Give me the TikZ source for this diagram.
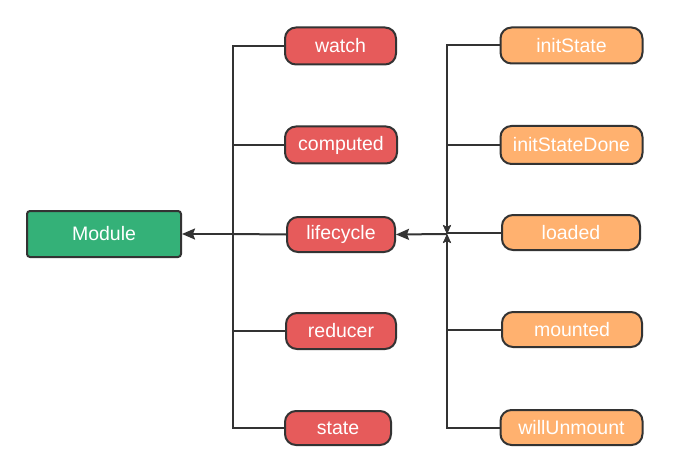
\documentclass[tikz,border=0pt]{standalone}
\usepackage{fontspec}
\setmainfont{Liberation Sans}
\usetikzlibrary{positioning}
\usetikzlibrary{arrows.meta}

\definecolor{modgreen}{RGB}{52,177,120}
\definecolor{keyred}{RGB}{230,91,91}
\definecolor{hookorange}{RGB}{255,177,111}
\definecolor{edgegray}{RGB}{51,51,51}

\begin{document}
\begin{tikzpicture}[x=1pt,y=-1pt,
    font=\fontsize{19.5}{22}\selectfont,
    keybox/.style={draw=edgegray, line width=2pt, rectangle, rounded corners=11pt,
        fill=keyred, text=white, inner sep=0pt, minimum height=37pt},
    hookbox/.style={draw=edgegray, line width=2pt, rectangle, rounded corners=11pt,
        fill=hookorange, text=white, inner sep=0pt, minimum height=36pt, minimum width=142pt},
    link/.style={draw=edgegray, line width=2pt},
    bigtip/.style={link, -{Stealth[length=13pt,width=11pt,inset=2pt]}},
    smalltip/.style={link, -{Stealth[length=9pt,width=8pt,inset=2pt]}}
]
        \useasboundingbox (0,0) rectangle (679,465);
        \node
        [
            rectangle,
            rounded corners=3pt,
            draw=edgegray,
            line width=2pt,
            fill=modgreen,
            text=white,
            minimum width=154pt,
            minimum height=46pt
        ] (module) at (104, 234) {Module};

        % red keys
        \node[keybox, minimum width=111pt] (watch) at (340.5, 46) {watch};
        \node[keybox, minimum width=112pt] (computed) at (341, 145) {computed};
        \node[keybox, minimum width=108pt, minimum height=35pt] (lifecycle) at (341, 234.5) {lifecycle};
        \node[keybox, minimum width=110pt, minimum height=36pt] (reducer) at (341, 331) {reducer};
        \node[keybox, minimum width=106pt, minimum height=34pt] (state) at (338, 428) {state};

        % orange hooks
        \node[hookbox] (initState) at (571.5, 45.5) {initState};
        \node[hookbox, minimum height=38pt] (initStateDone) at (571.5, 145) {initStateDone};
        \node[hookbox, minimum width=138pt, minimum height=35pt] (loaded) at (571, 232.5) {loaded};
        \node[hookbox, minimum width=140pt, minimum height=35pt] (mounted) at (572, 329.5) {mounted};
        \node[hookbox, minimum height=35pt] (willUnmount) at (571.5, 427.5) {willUnmount};

        \coordinate (lbus) at (233, 234);
        \coordinate (rbus) at (447, 234);

        % keys to module
        \draw[link] (watch.west) -| (lbus);
        \draw[link] (computed.west) -| (lbus);
        \draw[link] (reducer.west) -| (lbus);
        \draw[link] (state.west) -| (lbus);
        \draw[link] (lifecycle.west) -- (lbus);
        \draw[bigtip] (lbus) -- (module.east);

        % hooks to lifecycle
        \draw[smalltip] (initState.west) -| (rbus);
        \draw[smalltip] (initStateDone.west) -| (rbus);
        \draw[smalltip] (mounted.west) -| (rbus);
        \draw[smalltip] (willUnmount.west) -| (rbus);
        \draw[link] (loaded.west) -- (loaded.west -| rbus);
        \draw[bigtip] (rbus) -- (lifecycle.east);
    \end{tikzpicture}
\end{document}
